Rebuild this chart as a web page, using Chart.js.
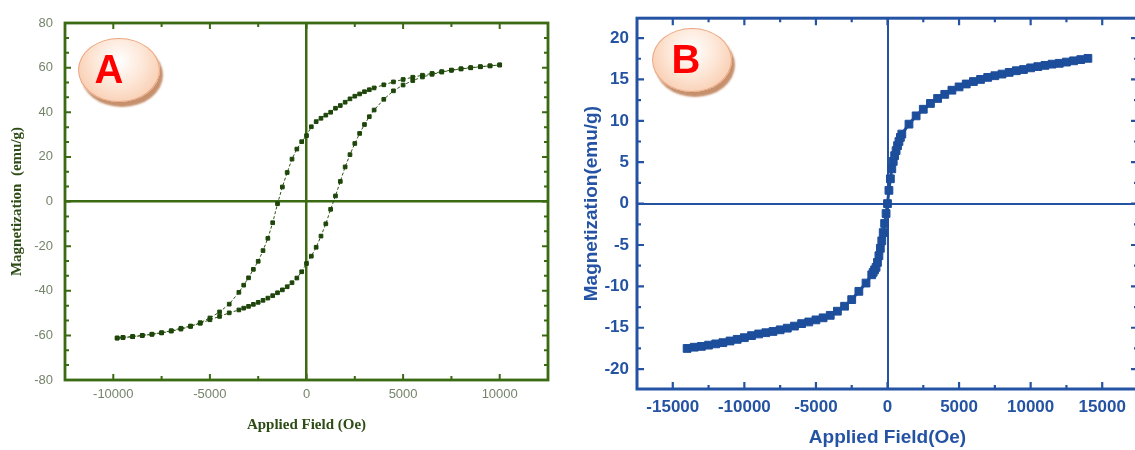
<!DOCTYPE html>
<html>
<head>
<meta charset="utf-8">
<script src="https://cdn.jsdelivr.net/npm/chart.js@4"></script>
<style>
  body { margin: 0; background: #fff; width: 1135px; height: 450px; position: relative; overflow: hidden; }
  .panel { position: absolute; top: 0; height: 450px; overflow: hidden; }
  #wrapA { left: 0; width: 565px; }
  #wrapB { left: 565px; width: 570px; }
  .badge {
    position: absolute; border-radius: 50%;
    background: radial-gradient(ellipse at 50% 35%, #ffffff 0%, #fde6d6 45%, #f6bf9c 100%);
    border: 1.5px solid #eba57d;
    box-shadow: 3px 5px 2px #c6906d;
    font: bold 40px "Liberation Sans", Arial, sans-serif; color: #ff0000;
    text-align: center; box-sizing: border-box;
  }
  #badgeA { left: 78px; top: 38px; width: 82px; height: 64px; line-height: 60px; padding-right: 20px; }
  #badgeB { left: 652px; top: 28px; width: 80px; height: 64px; line-height: 60px; padding-right: 12px; }
</style>
</head>
<body>
<div class="panel" id="wrapA"><canvas id="chartA" width="565" height="450"></canvas></div>
<div class="panel" id="wrapB"><canvas id="chartB" width="580" height="450"></canvas></div>
<div class="badge" id="badgeA">A</div>
<div class="badge" id="badgeB">B</div>
<script>
// ---- panel A : hysteresis loop ----
// descending branch (10000 -> -9800 Oe)
const hDownA = [10000, 9500, 9000, 8500, 8000, 7500, 7000, 6500, 6000, 5500, 5000, 4500, 4000, 3500,
  3250, 3000, 2750, 2500, 2250, 2000, 1750, 1500, 1250, 1000, 750, 500, 250, 0,
  -250, -500, -750, -1000, -1250, -1500, -1750, -2000, -2250, -2500, -2750, -3000, -3250, -3500,
  -4000, -4500, -5000, -5500, -6000, -6500, -7000, -7500, -8000, -8500, -9000, -9500, -9800];
const mDownA = [61.2, 60.8, 60.4, 60.0, 59.5, 58.9, 58.2, 57.4, 56.6, 55.7, 54.7, 53.6, 52.3, 50.9,
  50.1, 49.2, 48.2, 47.2, 46.0, 44.5, 43.0, 41.8, 40.0, 38.7, 37.3, 35.8, 33.5, 29.5,
  26.8, 23.5, 19.0, 13.0, 6.5, -1.0, -9.5, -16.5, -22.0, -26.8, -30.4, -34.2, -37.5, -40.7,
  -46.0, -49.5, -52.2, -54.3, -56.0, -57.2, -58.1, -58.9, -59.5, -60.0, -60.5, -60.9, -61.2];
// ascending branch (-9800 -> 10000 Oe)
const hUpA = [-9800, -9500, -9000, -8500, -8000, -7500, -7000, -6500, -6000, -5500, -5000, -4500, -4000,
  -3500, -3250, -3000, -2750, -2500, -2250, -2000, -1750, -1500, -1250, -1000, -750, -500, -250, 0,
  250, 500, 750, 1000, 1250, 1500, 1750, 2000, 2250, 2500, 2750, 3000, 3250, 3500,
  4000, 4500, 5000, 5500, 6000, 6500, 7000, 7500, 8000, 8500, 9000, 9500, 10000];
const mUpA = [-61.2, -61.0, -60.6, -60.1, -59.5, -58.8, -57.9, -56.8, -55.8, -54.6, -53.0, -51.5, -49.9,
  -48.6, -47.8, -47.0, -46.1, -45.2, -44.3, -43.3, -42.2, -40.9, -39.6, -38.2, -36.4, -34.3, -31.5, -27.8,
  -24.5, -20.5, -15.5, -10.0, -3.5, 2.5, 9.0, 15.5, 21.0, 26.0, 30.5, 34.5, 38.0, 41.0,
  45.8, 49.6, 52.2, 54.2, 55.8, 57.0, 58.0, 58.8, 59.4, 59.9, 60.4, 60.8, 61.2];
const xTicksA = [-10000, -5000, 0, 5000, 10000];
const xMinorA = [-7500, -2500, 2500, 7500];
const yTicksA = [-80, -60, -40, -20, 0, 20, 40, 60, 80];
const yMinorA = [-73.3, -66.7, -53.3, -46.7, -33.3, -26.7, -13.3, -6.7, 6.7, 13.3, 26.7, 33.3, 46.7, 53.3, 66.7, 73.3];

// ---- panel B : magnetization curve ----
const hB = [-14000, -13500, -13000, -12500, -12000, -11500, -11000, -10500, -10000, -9500, -9000, -8500, -8000,
  -7500, -7000, -6500, -6000, -5500, -5000, -4500, -4000, -3500, -3000, -2500, -2000, -1500,
  -1100, -1000, -900, -800, -700, -600, -500, -400, -300, -200, -100, 0, 100, 200, 300, 400, 500, 600, 700, 800, 900, 1000,
  1500, 2000, 2500, 3000, 3500, 4000, 4500, 5000, 5500, 6000, 6500, 7000, 7500, 8000, 8500, 9000, 9500, 10000,
  10500, 11000, 11500, 12000, 12500, 13000, 13500, 14000];
const mB = [-17.5, -17.35, -17.25, -17.1, -16.95, -16.8, -16.6, -16.4, -16.2, -15.95, -15.75, -15.6, -15.45,
  -15.25, -15.05, -14.8, -14.5, -14.3, -14.05, -13.8, -13.5, -13.0, -12.4, -11.6, -10.6, -9.6,
  -8.6, -8.3, -8.0, -7.7, -7.1, -6.3, -5.4, -4.5, -3.5, -2.4, -1.2, 0, 1.6, 3.0, 4.2, 5.1, 5.8, 6.4, 7.0, 7.5, 8.0, 8.4,
  9.6, 10.6, 11.4, 12.1, 12.7, 13.2, 13.7, 14.1, 14.45, 14.75, 15.0, 15.25, 15.45, 15.65, 15.85, 16.05, 16.2, 16.4,
  16.55, 16.7, 16.85, 16.95, 17.1, 17.25, 17.4, 17.55];
const xTicksB = [-15000, -10000, -5000, 0, 5000, 10000, 15000];
const xMinorB = [-12500, -7500, -2500, 2500, 7500, 12500];
const yTicksB = [-20, -15, -10, -5, 0, 5, 10, 15, 20];
const yMinorB = [-17.5, -12.5, -7.5, -2.5, 2.5, 7.5, 12.5, 17.5];

const GREEN = '#3a6a12';
const BLUE = '#2453a4';

// 枠と内向き目盛り
const frameTicks = {
  id: 'frameTicks',
  afterDatasetsDraw(chart, args, o) {
    const {ctx, chartArea: a} = chart;
    const xs = chart.scales.x, ys = chart.scales.y;
    ctx.save();
    ctx.strokeStyle = o.color;
    ctx.lineWidth = o.tickWidth;
    ctx.beginPath();
    const tx = (vals, len) => vals.forEach(v => {
      const p = xs.getPixelForValue(v);
      ctx.moveTo(p, a.bottom); ctx.lineTo(p, a.bottom - len);
      ctx.moveTo(p, a.top); ctx.lineTo(p, a.top + len);
    });
    const ty = (vals, len) => vals.forEach(v => {
      const p = ys.getPixelForValue(v);
      ctx.moveTo(a.left, p); ctx.lineTo(a.left + len, p);
      ctx.moveTo(a.right, p); ctx.lineTo(a.right - len, p);
    });
    tx(o.xMajor, o.major); tx(o.xMinor, o.minor);
    ty(o.yMajor, o.major); ty(o.yMinor, o.minor);
    ctx.stroke();
    ctx.lineWidth = o.frameWidth;
    ctx.strokeRect(a.left, a.top, a.width, a.height);
    ctx.restore();
  }
};

const pts = (hs, ms) => hs.map((h, i) => ({x: h, y: ms[i]}));
const zeroLine = (col) => c => (c.tick && c.tick.value === 0) ? col : 'rgba(0,0,0,0)';

new Chart(document.getElementById('chartA'), {
  type: 'scatter',
  data: {
    datasets: [
      { data: pts(hDownA, mDownA), showLine: true, borderColor: '#2b5410', borderWidth: 1, borderDash: [3, 2],
        pointStyle: 'rect', pointRadius: 2.6, pointBorderWidth: 1, pointBackgroundColor: '#1e460a', pointBorderColor: '#1e460a' },
      { data: pts(hUpA, mUpA), showLine: true, borderColor: '#2b5410', borderWidth: 1, borderDash: [3, 2],
        pointStyle: 'rect', pointRadius: 2.6, pointBorderWidth: 1, pointBackgroundColor: '#1e460a', pointBorderColor: '#1e460a' }
    ]
  },
  options: {
    responsive: false,
    animation: false,
    layout: { padding: { left: 0, right: 17, top: 23, bottom: 0 } },
    plugins: {
      legend: { display: false },
      tooltip: { enabled: false },
      frameTicks: { color: GREEN, frameWidth: 2.8, tickWidth: 2, major: 6, minor: 4,
        xMajor: xTicksA, xMinor: xMinorA, yMajor: yTicksA, yMinor: yMinorA }
    },
    scales: {
      x: {
        type: 'linear', min: -12500, max: 12500,
        afterBuildTicks: s => { s.ticks = xTicksA.map(v => ({value: v})); },
        afterFit: s => { s.height = 70; },
        border: { display: false },
        grid: { drawTicks: false, lineWidth: 2.5, color: zeroLine(GREEN) },
        ticks: { padding: 7, color: '#74846a', font: { family: '"Liberation Sans", Arial, sans-serif', size: 13 }, callback: v => v },
        title: { display: true, text: 'Applied Field (Oe)', color: '#2e4d16', padding: { top: 0, bottom: 16 },
          font: { family: '"Liberation Serif", "Times New Roman", serif', size: 15, weight: 'bold' } }
      },
      y: {
        min: -80, max: 80,
        afterBuildTicks: s => { s.ticks = yTicksA.map(v => ({value: v})); },
        afterFit: s => { s.width = 65; },
        border: { display: false },
        grid: { drawTicks: false, lineWidth: 2.5, color: zeroLine(GREEN) },
        ticks: { padding: 12, color: '#74846a', font: { family: '"Liberation Sans", Arial, sans-serif', size: 13 }, callback: v => v },
        title: { display: true, text: 'Magnetization  (emu/g)', color: '#2e4d16', padding: { top: 8, bottom: 0 },
          font: { family: '"Liberation Serif", "Times New Roman", serif', size: 15, weight: 'bold' } }
      }
    }
  },
  plugins: [frameTicks]
});

new Chart(document.getElementById('chartB'), {
  type: 'scatter',
  data: {
    datasets: [
      { data: pts(hB, mB), showLine: true, borderColor: '#1d4e9b', borderWidth: 3,
        pointStyle: 'rect', pointRadius: 5.5, pointBorderWidth: 1, pointBackgroundColor: '#1d4e9b', pointBorderColor: '#1d4e9b' }
    ]
  },
  options: {
    responsive: false,
    animation: false,
    layout: { padding: { left: 0, right: 7, top: 14, bottom: 0 } },
    plugins: {
      legend: { display: false },
      tooltip: { enabled: false },
      frameTicks: { color: BLUE, frameWidth: 3, tickWidth: 2.2, major: 7, minor: 4,
        xMajor: xTicksB, xMinor: xMinorB, yMajor: yTicksB, yMinor: yMinorB }
    },
    scales: {
      x: {
        type: 'linear', min: -17500, max: 17500,
        afterBuildTicks: s => { s.ticks = xTicksB.map(v => ({value: v})); },
        afterFit: s => { s.height = 61; },
        border: { display: false },
        grid: { drawTicks: false, lineWidth: 2, color: zeroLine(BLUE) },
        ticks: { padding: 8, color: BLUE, font: { family: '"Liberation Sans", Arial, sans-serif', size: 17, weight: 'bold' }, callback: v => v },
        title: { display: true, text: 'Applied Field(Oe)', color: BLUE, padding: { top: 0, bottom: 0.6 },
          font: { family: '"Liberation Sans", Arial, sans-serif', size: 19, weight: 'bold' } }
      },
      y: {
        min: -22.4, max: 22.4,
        afterBuildTicks: s => { s.ticks = yTicksB.map(v => ({value: v})); },
        afterFit: s => { s.width = 72; },
        border: { display: false },
        grid: { drawTicks: false, lineWidth: 2, color: zeroLine(BLUE) },
        ticks: { padding: 8, color: BLUE, font: { family: '"Liberation Sans", Arial, sans-serif', size: 17, weight: 'bold' }, callback: v => v },
        title: { display: true, text: 'Magnetization(emu/g)', color: BLUE, padding: { top: 15.6, bottom: 0 },
          font: { family: '"Liberation Sans", Arial, sans-serif', size: 19, weight: 'bold' } }
      }
    }
  },
  plugins: [frameTicks]
});
</script>
</body>
</html>
